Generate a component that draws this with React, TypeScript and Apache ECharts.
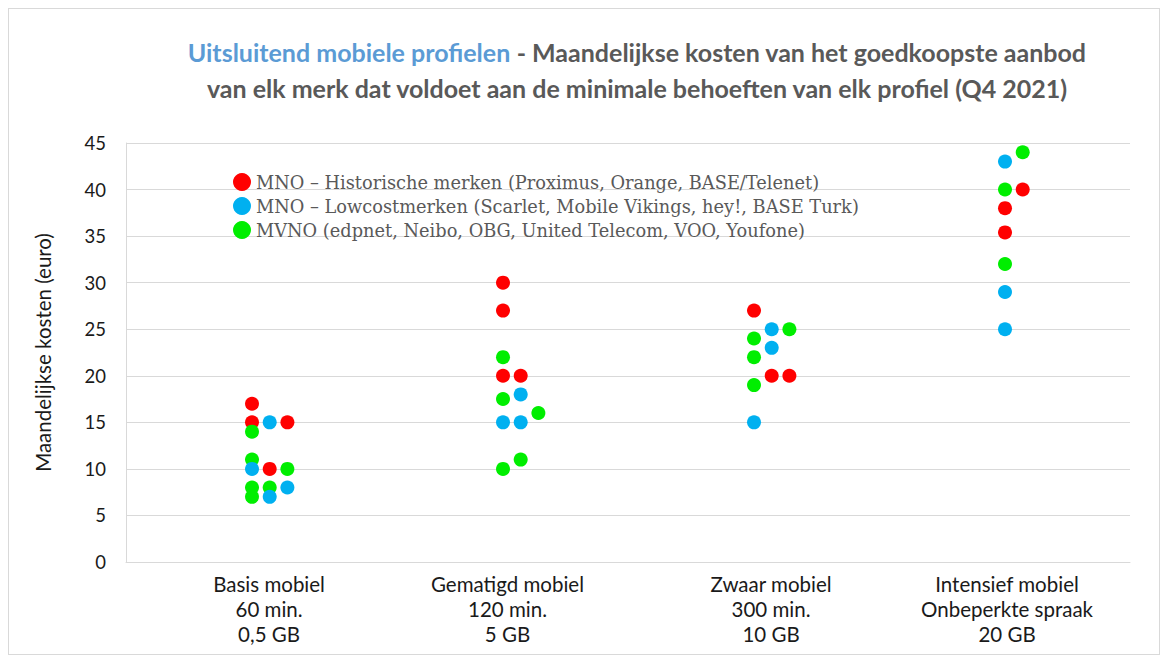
import React, { useEffect, useRef } from 'react';
import * as echarts from 'echarts';

const categories = [
  'Basis mobiel\n60 min.\n0,5 GB',
  'Gematigd mobiel\n120 min.\n5 GB',
  'Zwaar mobiel\n300 min.\n10 GB',
  'Intensief mobiel\nOnbeperkte spraak\n20 GB',
];
const seriesNames = [
  'MNO – Historische merken (Proximus, Orange, BASE/Telenet)',
  'MNO – Lowcostmerken (Scarlet, Mobile Vikings, hey!, BASE Turk)',
  'MVNO (edpnet, Neibo, OBG, United Telecom, VOO, Youfone)',
];
const yTicks = [0, 5, 10, 15, 20, 25, 30, 35, 40, 45];

// [categoryIndex, column within cluster, euro per month]
const historisch = [
  [0, 0, 17], [0, 0, 15], [0, 2, 15], [0, 1, 10],
  [1, 0, 30], [1, 0, 27], [1, 0, 20], [1, 1, 20],
  [2, 0, 27], [2, 1, 20], [2, 2, 20],
  [3, 1, 40], [3, 0, 38], [3, 0, 35.4],
];
const lowcost = [
  [0, 1, 15], [0, 0, 10], [0, 2, 8], [0, 1, 7],
  [1, 1, 18], [1, 0, 15], [1, 1, 15],
  [2, 1, 25], [2, 1, 23], [2, 0, 15],
  [3, 0, 43], [3, 0, 29], [3, 0, 25],
];
const mvno = [
  [0, 0, 14], [0, 0, 11], [0, 2, 10], [0, 0, 8], [0, 1, 8], [0, 0, 7],
  [1, 0, 22], [1, 0, 17.5], [1, 2, 16], [1, 1, 11], [1, 0, 10],
  [2, 2, 25], [2, 0, 24], [2, 0, 22], [2, 0, 19],
  [3, 1, 44], [3, 0, 40], [3, 0, 32],
];

const colors = ['#ff0000', '#00b0f0', '#00ee00'];
const CLUSTER_START = 0.502;
const COL_STEP = 0.0705;
const toPoints = (arr: number[][]) =>
  arr.map(([c, k, v]) => [c + CLUSTER_START + k * COL_STEP, v]);

const labelPositions = [0.57, 1.52, 2.57, 3.51];

export default function App() {
  const ref = useRef<HTMLDivElement>(null);
  useEffect(() => {
    if (!ref.current) return;
    const chart = echarts.init(ref.current, undefined, { renderer: 'svg' });
    const font = 'Lato, "Open Sans", sans-serif';
    chart.setOption({
      animation: false,
      backgroundColor: '#ffffff',
      title: {
        left: 623,
        top: 20,
        textAlign: 'center',
        text:
          '{a|Uitsluitend mobiele profielen}{b| - Maandelijkse kosten van het goedkoopste aanbod}\n{b|van elk merk dat voldoet aan de minimale behoeften van elk profiel (Q4 2021)}',
        textStyle: {
          rich: {
            a: { fontFamily: font, fontWeight: 'bold', fontSize: 25, color: '#5b9bd5', lineHeight: 36 },
            b: { fontFamily: font, fontWeight: 'bold', fontSize: 25, color: '#595959', lineHeight: 36 },
          },
        },
      },
      legend: {
        left: 219,
        top: 159,
        orient: 'vertical',
        icon: 'circle',
        itemWidth: 18,
        itemHeight: 18,
        itemGap: 6,
        data: seriesNames,
        textStyle: { fontFamily: '"DejaVu Serif", serif', fontSize: 17.8, color: '#595959' },
      },
      grid: { left: 117, right: 29, top: 134, bottom: 92 },
      xAxis: {
        type: 'value',
        min: 0,
        max: 4,
        splitLine: { show: false },
        axisTick: { show: false },
        axisLine: { show: true, lineStyle: { color: '#d9d9d9', width: 1 } },
        axisLabel: {
          customValues: labelPositions,
          formatter: (v: number) => categories[Math.floor(v)] ?? '',
          fontFamily: font,
          fontSize: 20.5,
          lineHeight: 25,
          color: '#1a1a1a',
          margin: 9,
        },
      },
      yAxis: {
        type: 'value',
        min: 0,
        max: 45,
        interval: 5,
        name: 'Maandelijkse kosten (euro)',
        nameLocation: 'middle',
        nameGap: 73,
        nameTextStyle: { fontFamily: font, fontSize: 20.5, color: '#1a1a1a' },
        axisLine: { show: true, lineStyle: { color: '#d9d9d9', width: 1 } },
        axisTick: { show: false },
        splitLine: { lineStyle: { color: '#d9d9d9', width: 1 } },
        axisLabel: {
          fontFamily: font,
          fontSize: 18.5,
          color: '#1a1a1a',
          margin: 20,
          formatter: (v: number) => (yTicks.includes(v) ? String(v) : ''),
        },
      },
      series: [
        { name: seriesNames[0], type: 'scatter', symbolSize: 14, itemStyle: { color: colors[0], opacity: 1 }, data: toPoints(historisch), z: 2 },
        { name: seriesNames[2], type: 'scatter', symbolSize: 14, itemStyle: { color: colors[2], opacity: 1 }, data: toPoints(mvno), z: 3 },
        { name: seriesNames[1], type: 'scatter', symbolSize: 14, itemStyle: { color: colors[1], opacity: 1 }, data: toPoints(lowcost), z: 4 },
      ],
    });
    return () => chart.dispose();
  }, []);
  return (
    <div
      ref={ref}
      style={{ width: 1152, height: 647, border: '1px solid #d9d9d9', boxSizing: 'border-box' }}
    />
  );
}
